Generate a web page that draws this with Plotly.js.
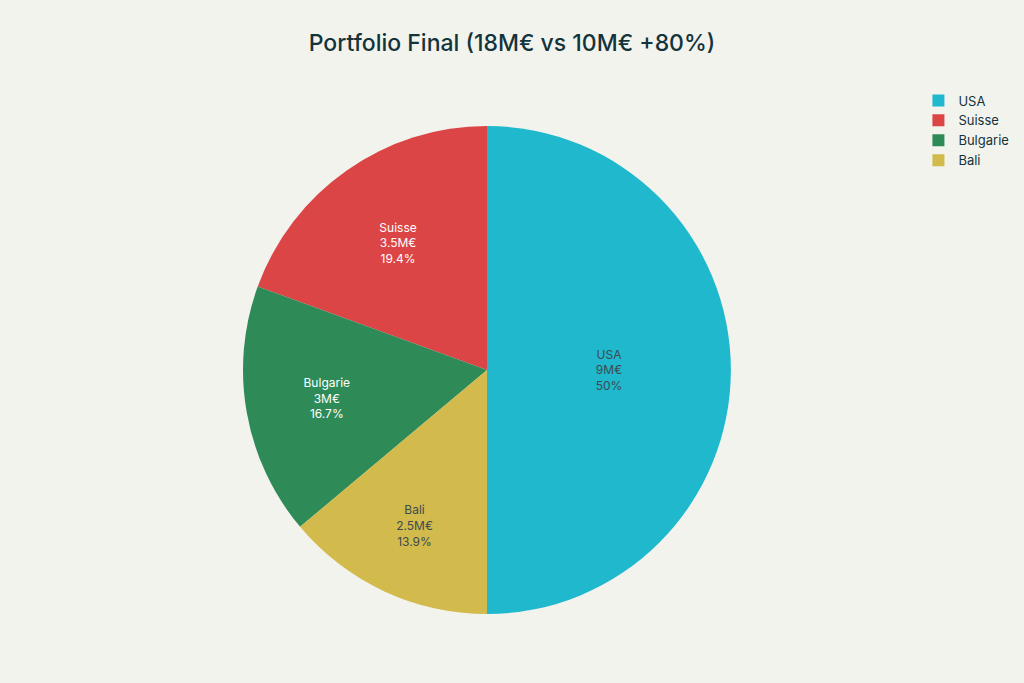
<!DOCTYPE html>
<html>
<head>
<meta charset="utf-8">
<script src="https://cdn.plot.ly/plotly-3.0.1.min.js"></script>
<style>html,body{margin:0;padding:0;background:#F3F3EE;}#chart{width:1024px;height:683px;}</style>
</head>
<body>
<div id="chart"></div>
<script>
const categories = ['USA', 'Suisse', 'Bulgarie', 'Bali'];
const valuesM = [9, 3.5, 3, 2.5];
const colors = ['#1FB8CD', '#DB4545', '#2E8B57', '#D2BA4C'];
const textColors = ['#3d4a50', '#ffffff', '#ffffff', '#3d4a50'];

const trace = {
  type: 'pie',
  labels: categories,
  values: valuesM,
  text: valuesM.map(v => v + 'M€'),
  textinfo: 'label+text+percent',
  textposition: 'inside',
  insidetextorientation: 'horizontal',
  sort: false,
  direction: 'counterclockwise',
  rotation: 0,
  marker: {colors: colors, line: {width: 0}},
  textfont: {family: 'Inter, sans-serif', size: 12, color: textColors},
  hoverinfo: 'label+value+percent'
};

const layout = {
  width: 1024,
  height: 683,
  paper_bgcolor: '#F3F3EE',
  plot_bgcolor: '#F3F3EE',
  title: {text: 'Portfolio Final (18M€ vs 10M€ +80%)', x: 0.5, xanchor: 'center', y: 0.937, yanchor: 'middle',
          font: {family: 'Inter, sans-serif', size: 23, weight: 500, color: '#13343B'}},
  margin: {l: 80, r: 130, t: 126, b: 69, autoexpand: false},
  showlegend: true,
  legend: {x: 1.03, xanchor: 'left', y: 1.083, yanchor: 'top', bgcolor: 'rgba(0,0,0,0)',
           font: {family: 'Inter, sans-serif', size: 13, color: '#13343B'}}
};

Plotly.newPlot('chart', [trace], layout, {displayModeBar: false, staticPlot: true});
</script>
</body>
</html>
